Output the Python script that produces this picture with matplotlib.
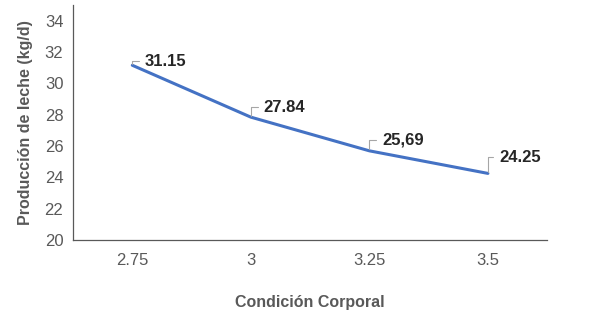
import matplotlib.pyplot as plt

# Data
categories = ['2.75', '3', '3.25', '3.5']
milk_yield = [31.15, 27.84, 25.69, 24.25]
value_labels = ['31.15', '27.84', '25,69', '24.25']
# label offsets (points) from each data point
label_offsets = [(9, 3), (9, 7), (9, 8), (8, 11.5)]
y_ticks = [20, 22, 24, 26, 28, 30, 32, 34]

plt.rcParams['font.family'] = ['Liberation Sans', 'DejaVu Sans']

fig = plt.figure(figsize=(5.89, 3.29), dpi=100)
ax = fig.add_axes([0.124, 0.2705, 0.805, 0.7145])

x = list(range(len(categories)))
ax.plot(x, milk_yield, color='#4472C4', linewidth=2.2, solid_capstyle='round')

for xi, yi, lab, off in zip(x, milk_yield, value_labels, label_offsets):
    ax.annotate(lab, xy=(xi, yi), xytext=off, textcoords='offset points',
                ha='left', va='center', fontsize=12, fontweight='bold',
                color='#262626',
                arrowprops=dict(arrowstyle='-', color='#a6a6a6', lw=0.8,
                                shrinkA=2, shrinkB=1,
                                connectionstyle='angle,angleA=0,angleB=90,rad=0'))

ax.set_xlim(-0.5, len(categories) - 0.5)
ax.set_ylim(20, 35)
ax.set_xticks(x)
ax.set_xticklabels(categories)
ax.set_yticks(y_ticks)

ax.spines['top'].set_visible(False)
ax.spines['right'].set_visible(False)
for s in ('left', 'bottom'):
    ax.spines[s].set_color('#595959')
    ax.spines[s].set_linewidth(0.9)

ax.tick_params(axis='both', length=0, labelsize=12, labelcolor='#595959')
ax.tick_params(axis='x', pad=9)
ax.tick_params(axis='y', pad=7)

ax.set_xlabel('Condición Corporal', fontsize=11.5, fontweight='bold',
              color='#595959', labelpad=20)
ax.set_ylabel('Producción de leche (kg/d)', fontsize=11.5, fontweight='bold',
              color='#595959', labelpad=8)

fig.savefig('out.png', dpi=100)
